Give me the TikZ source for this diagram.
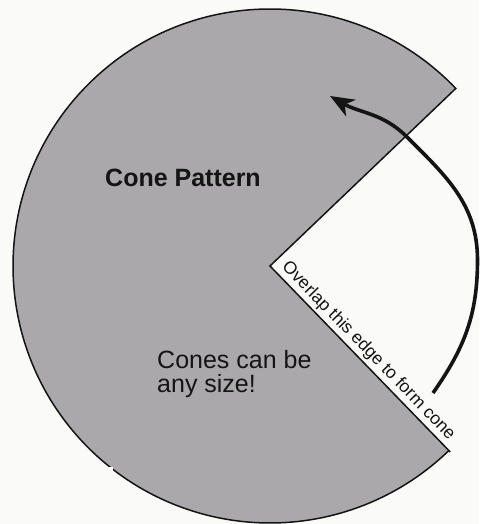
\documentclass[tikz,border=0pt]{standalone}
\usepackage{fontspec}
\setmainfont{Liberation Sans}
\usetikzlibrary{arrows.meta,calc}
\definecolor{paper}{RGB}{250,250,249}
\definecolor{patterngray}{RGB}{170,168,170}
\definecolor{ink}{RGB}{20,20,20}
\begin{document}
\begin{tikzpicture}[x=1pt,y=1pt,
  outline/.style={draw=ink,line width=1.5pt,line join=miter},
  bigbold/.style={font=\fontsize{25}{28}\selectfont\bfseries,text=ink,inner sep=0pt,anchor=base west},
  bigtext/.style={font=\fontsize{25}{27}\selectfont,text=ink,inner sep=0pt,anchor=base west},
  edgetext/.style={font=\fontsize{17.6}{19}\selectfont,text=ink,inner sep=0pt},
  bigarrow/.style={draw=ink,line width=3.6pt,-{Stealth[length=24pt,width=19pt,inset=7pt]}}]
\useasboundingbox (0,0) rectangle (479,524);
\fill[paper] (0,0) rectangle (479,524);
% cone pattern
\coordinate (apex) at (270,258);
\coordinate (upc) at ($(apex)+(43.7:257)$);
\coordinate (lowc) at ($(apex)+(-45.9:259)$);
\fill[patterngray] (apex) -- (upc) arc[start angle=43.7,end angle=314.1,radius=257] -- (lowc) -- cycle;
\draw[outline] (lowc) -- (apex) -- (upc) arc[start angle=43.7,end angle=314.1,radius=257] -- (lowc);
% blank patch over the lower left
\fill[paper] (0,0) rectangle (113,57);
% texts
\node[bigbold] (title) at (105,337) {Cone Pattern};
\node[bigtext] (cones1) at (157,155) {Cones can be};
\node[bigtext] (cones2) at (157,131) {any size!};
\path (apex) -- (lowc) node[pos=0,sloped,anchor=south west,edgetext,xshift=9pt,yshift=3pt] (overlap) {Overlap this edge to form cone};
% arrow
\coordinate (arrS) at (433,131);
\coordinate (arrM) at (477.5,264);
\coordinate (arrN) at (407,387);
\coordinate (arrT) at (330,428);
\draw[bigarrow] (arrS) to[out=55,in=-90] (arrM) to[out=90,in=-45] (arrN) to[out=135,in=-30] (arrT);
\end{tikzpicture}
\end{document}
